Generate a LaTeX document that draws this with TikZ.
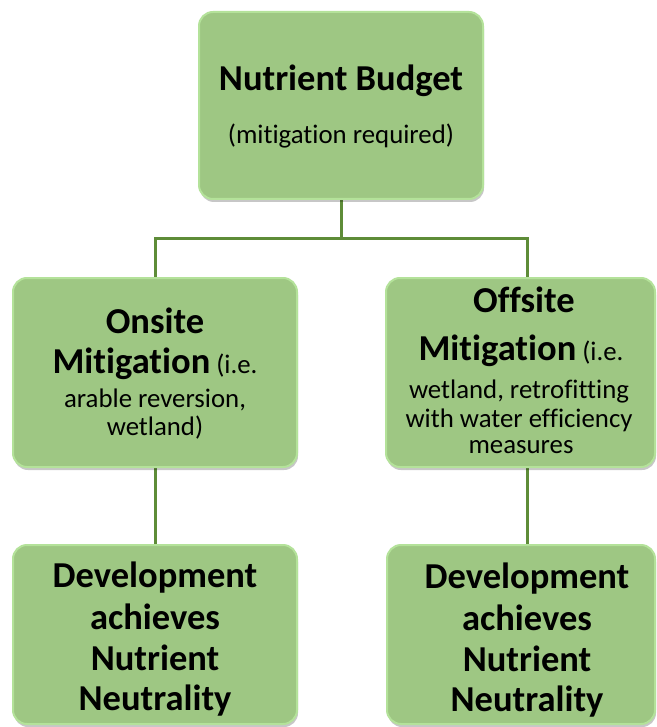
\documentclass[tikz,border=0pt]{standalone}
\usepackage{fontspec}
\setmainfont[Ligatures=NoCommon]{Carlito}
\usetikzlibrary{shadows,backgrounds}
\definecolor{boxfill}{RGB}{158,199,131}
\definecolor{boxedge}{RGB}{180,226,154}
\definecolor{linkgreen}{RGB}{94,140,56}
\tikzset{
  gbox/.style={rectangle, rounded corners=14pt, fill=boxfill, draw=boxedge,
    line width=2pt, inner sep=0pt,
    drop shadow={shadow xshift=1pt, shadow yshift=-3pt, opacity=0.22, fill=black}},
  link/.style={draw=linkgreen, line width=3pt, line join=miter},
  bt/.style={anchor=base, inner sep=0pt, font=\fontsize{36.5}{40}\selectfont\bfseries},
  rt/.style={anchor=base, inner sep=0pt, font=\fontsize{26.8}{30}\selectfont},
}
\begin{document}
\begin{tikzpicture}[x=1pt,y=-1pt]
\useasboundingbox (0,0) rectangle (656,727);
% boxes
\node[gbox, minimum width=284pt, minimum height=187pt] (top) at (341,105.5) {};
\node[gbox, minimum width=284pt, minimum height=189pt] (lm) at (155,372.5) {};
\node[gbox, minimum width=269pt, minimum height=189pt] (rm) at (520.5,372.5) {};
\node[gbox, minimum width=284pt, minimum height=179pt] (lb) at (155,634.5) {};
\node[gbox, minimum width=268pt, minimum height=179pt] (rb) at (521,634.5) {};
% connectors
\coordinate (hm) at (341,238);
\coordinate (hl) at (155,238);
\coordinate (hr) at (527,238);
\begin{scope}[on background layer]
\fill[white] (0,0) rectangle (656,727);
\draw[link] (top.south) -- (hm);
\draw[link] (lm.north) -- (hl) -- (hr) -- (hr |- rm.north);
\draw[link] (lm.south) -- (lb.north);
\draw[link] (rm.south -| hr) -- (rb.north -| hr);
\end{scope}
% texts
\node[bt] (t1) at (341,91) {Nutrient Budget};
\node[rt] (t2) at (341,144) {(mitigation required)};

\node[bt] (l1) at (155,333) {Onsite};
\node[rt] (l2) at (155,373) {{\fontsize{36.5}{40}\selectfont\bfseries Mitigation} (i.e.};
\node[rt] (l3) at (155,407) {arable reversion,};
\node[rt] (l4) at (155,435) {wetland)};

\node[bt] (r1) at (524,312) {Offsite};
\node[rt] (r2) at (521,360) {{\fontsize{36.5}{40}\selectfont\bfseries Mitigation} (i.e.};
\node[rt] (r3) at (519,398) {wetland, retrofitting};
\node[rt] (r4) at (519,427) {with water efficiency};
\node[rt] (r5) at (521,453) {measures};

\node[bt] (b1) at (155,587) {Development};
\node[bt] (b2) at (155,629) {achieves};
\node[bt] (b3) at (155,670) {Nutrient};
\node[bt] (b4) at (155,710) {Neutrality};

\node[bt] (c1) at (527,588) {Development};
\node[bt] (c2) at (527,630) {achieves};
\node[bt] (c3) at (527,671) {Nutrient};
\node[bt] (c4) at (527,711) {Neutrality};
\end{tikzpicture}
\end{document}
